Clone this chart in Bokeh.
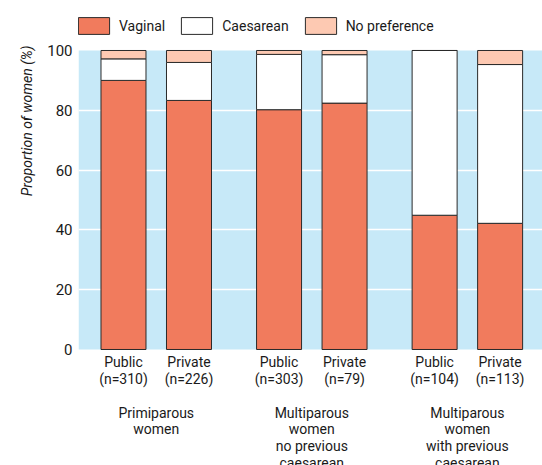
from bokeh.plotting import figure
from bokeh.models import (ColumnDataSource, FixedTicker, Legend, LegendItem, Label, Range1d,
                          BoxAnnotation, Title)
from bokeh.embed import file_html
from bokeh.resources import INLINE

# ---- data ----
bar_labels = ["Public", "Private", "Public", "Private", "Public", "Private"]
bar_n = ["(n=310)", "(n=226)", "(n=303)", "(n=79)", "(n=104)", "(n=113)"]
bar_pos = [0.0, 1.0, 2.375, 3.375, 4.75, 5.75]
group_labels = [["Primiparous", "women"], ["Multiparous", "women", "no previous", "caesarean"],
                ["Multiparous", "women", "with previous", "caesarean"]]
vaginal = [90.0, 83.3, 80.2, 82.4, 44.9, 42.2]
caesarean = [7.2, 12.7, 18.5, 16.2, 55.1, 53.1]
no_pref = [2.8, 4.0, 1.3, 1.4, 0.0, 4.7]
series = ["vaginal", "caesarean", "no_pref"]
series_names = ["Vaginal", "Caesarean", "No preference"]
y_ticks = [0, 20, 40, 60, 80, 100]
grid_ticks = [20, 40, 60, 80]

FONT = "Roboto"
TXT = "#1a1a1a"
colors = ["#F17B5D", "#FFFFFF", "#FDC9B2"]
PX = 2.99          # pixels per percentage point on the y scale
LINE = 16.7 / PX   # text line spacing in data units

source = ColumnDataSource(dict(x=bar_pos, vaginal=vaginal, caesarean=caesarean, no_pref=no_pref))

p = figure(width=542, height=465, output_backend="svg", toolbar_location=None,
           x_range=Range1d(-0.687, 6.397), y_range=Range1d(-38.80, 116.72),
           min_border_left=78, min_border_right=0, min_border_top=0, min_border_bottom=0)
p.outline_line_color = None
p.background_fill_color = "white"
p.border_fill_color = "white"

# light-blue plotting panel from 0 to 100 %
p.add_layout(BoxAnnotation(bottom=0, top=100, fill_color="#C7E9F8", fill_alpha=1,
                           line_color=None, level="image"))

renderers = p.vbar_stack(series, x="x", width=0.687, color=colors, line_color="#2a2a2a",
                         line_width=1, source=source)

# grid
p.xgrid.visible = False
p.ygrid.ticker = FixedTicker(ticks=grid_ticks)
p.ygrid.grid_line_color = "white"
p.ygrid.grid_line_width = 1.5

# y axis
p.yaxis.ticker = FixedTicker(ticks=y_ticks)
p.yaxis.axis_line_color = None
p.yaxis.major_tick_line_color = None
p.yaxis.minor_tick_line_color = None
p.yaxis.major_tick_out = 0
p.yaxis.major_tick_in = 0
p.yaxis.major_label_standoff = 6
p.yaxis.major_label_text_font = FONT
p.yaxis.major_label_text_font_size = "15px"
p.yaxis.major_label_text_color = TXT

p.add_layout(Title(text="Proportion of women (%)", align="right", offset=45, standoff=19,
                   text_font=FONT, text_font_size="14px", text_font_style="italic",
                   text_color=TXT), "left")

# x axis replaced by labels below the panel
p.xaxis.visible = False
y0 = -5.0 / PX
for xp, bl, nl in zip(bar_pos, bar_labels, bar_n):
    for j, line in enumerate([bl, nl]):
        p.add_layout(Label(x=xp, y=y0 - LINE * j, text=line, text_align="center",
                           text_baseline="top", text_font=FONT, text_font_size="14px",
                           text_color=TXT))
for i, gl in enumerate(group_labels):
    gx = (bar_pos[2 * i] + bar_pos[2 * i + 1]) / 2
    for j, line in enumerate(gl):
        p.add_layout(Label(x=gx, y=y0 - LINE * (3 + j), text=line, text_align="center",
                           text_baseline="top", text_font=FONT, text_font_size="14px",
                           text_color=TXT))

# legend, inside the frame above the blue panel
legend = Legend(items=[LegendItem(label=n, renderers=[r]) for n, r in zip(series_names, renderers)],
                orientation="horizontal", location=(-4, 429), margin=0, padding=0,
                glyph_width=39, glyph_height=21, label_standoff=6, spacing=12,
                label_text_font=FONT, label_text_font_size="14px", label_text_color=TXT,
                border_line_color=None, background_fill_alpha=0)
p.add_layout(legend, "center")

open("out.html", "w").write(file_html(p, INLINE))
